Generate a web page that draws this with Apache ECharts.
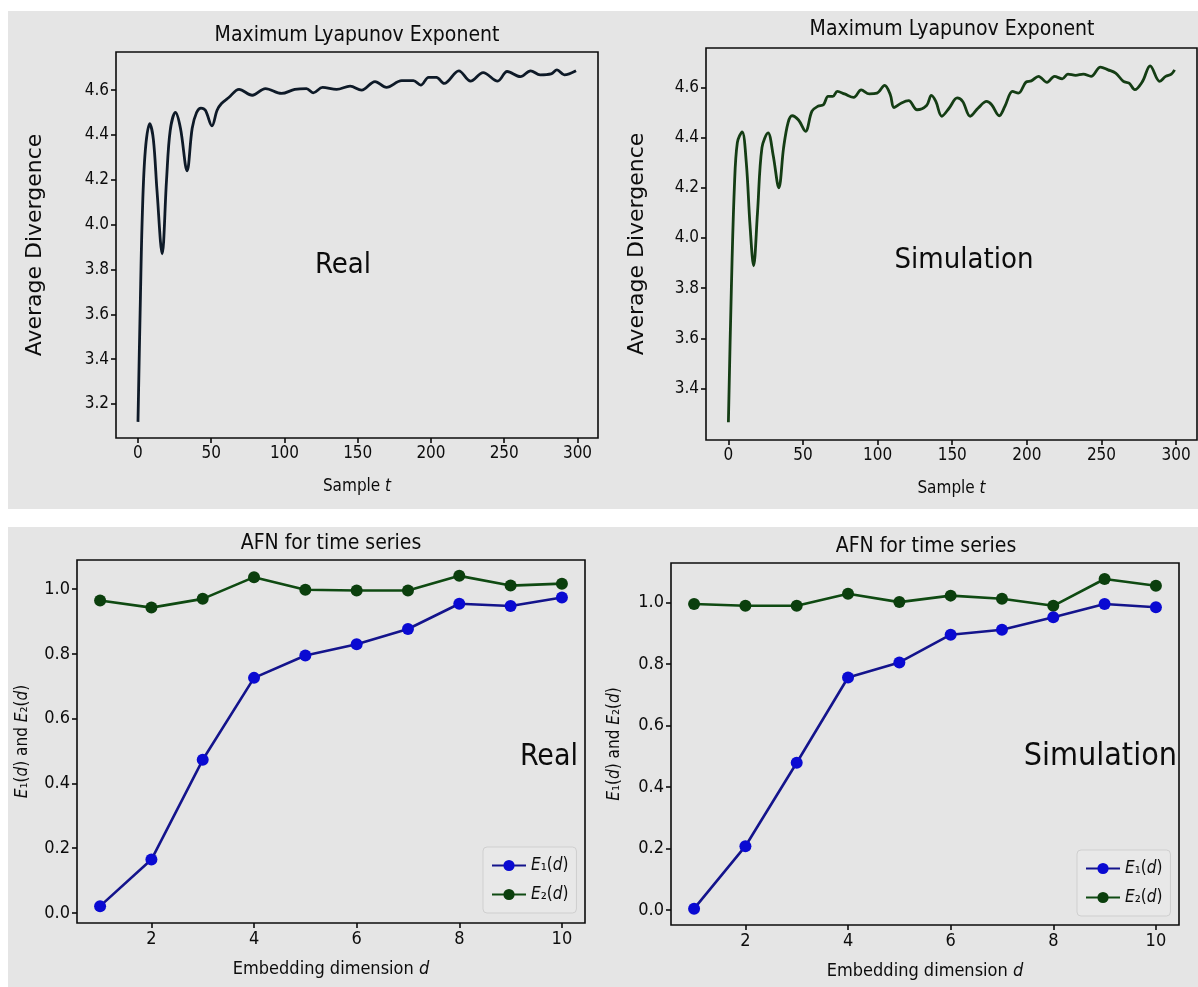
<!DOCTYPE html>
<html>
<head>
<meta charset="utf-8">
<script src="https://cdn.jsdelivr.net/npm/echarts@6/dist/echarts.min.js"></script>
<style>
  html, body { margin: 0; padding: 0; background: #ffffff; }
  #main { width: 1198px; height: 987px; }
</style>
</head>
<body>
<div id="main"></div>
<script>
// 最大李雅普诺夫指数 - real
const realT = [0, 1.5, 3, 5, 8, 10.5, 13, 16.5, 19.5, 22, 25.6, 29, 33.5, 37, 40, 43, 46, 50.5, 54, 57, 62, 69, 78, 87, 98, 107, 115, 119.6, 126, 135.6, 144.8, 152.6, 161.8, 169.6, 180, 188, 193, 198.4, 203.7, 209, 219, 227, 235.6, 245.5, 252, 261, 268, 274.5, 282, 286, 291, 299];
const realV = [3.12, 3.62, 4.05, 4.33, 4.45, 4.38, 4.15, 3.87, 4.2, 4.42, 4.5, 4.43, 4.24, 4.43, 4.5, 4.52, 4.51, 4.44, 4.51, 4.54, 4.567, 4.603, 4.577, 4.607, 4.585, 4.603, 4.607, 4.588, 4.612, 4.603, 4.618, 4.6, 4.638, 4.612, 4.642, 4.642, 4.622, 4.657, 4.657, 4.63, 4.686, 4.64, 4.678, 4.64, 4.683, 4.66, 4.686, 4.668, 4.672, 4.69, 4.668, 4.686];

// simulation
const simT = [0, 2, 4, 6, 9.2, 12, 14.5, 16.9, 19.5, 22.5, 26.6, 30, 33.8, 37, 40, 42.7, 47, 51.7, 56, 60, 63.7, 66.8, 70, 73, 77.8, 84, 89, 94.4, 99.6, 104.7, 108.5, 111, 116, 120.8, 126.4, 132.8, 136, 139, 143, 148, 153.3, 157, 162, 167.4, 173, 176.4, 181.5, 185.3, 190.4, 194.3, 199.4, 203, 207.8, 213.5, 218.5, 223.7, 227.5, 232.7, 237.8, 243, 249.3, 254.4, 259.5, 264.7, 268.5, 272.3, 277.5, 282.6, 289, 293, 296.8, 299];
const simV = [3.266, 3.8, 4.2, 4.38, 4.423, 4.3, 4.05, 3.889, 4.1, 4.36, 4.419, 4.33, 4.2, 4.36, 4.46, 4.487, 4.47, 4.425, 4.505, 4.525, 4.531, 4.564, 4.564, 4.584, 4.574, 4.56, 4.59, 4.574, 4.577, 4.608, 4.571, 4.52, 4.538, 4.547, 4.511, 4.528, 4.568, 4.544, 4.485, 4.518, 4.558, 4.544, 4.485, 4.518, 4.544, 4.531, 4.487, 4.525, 4.584, 4.577, 4.621, 4.626, 4.644, 4.62, 4.644, 4.634, 4.653, 4.648, 4.653, 4.644, 4.681, 4.67, 4.657, 4.624, 4.617, 4.591, 4.624, 4.686, 4.624, 4.644, 4.653, 4.67];

// AFN
const dims = [1, 2, 3, 4, 5, 6, 7, 8, 9, 10];
const realE1 = [0.021, 0.165, 0.473, 0.726, 0.795, 0.830, 0.877, 0.955, 0.948, 0.974];
const realE2 = [0.965, 0.943, 0.970, 1.037, 0.998, 0.996, 0.996, 1.041, 1.011, 1.017];
const simE1 = [0.005, 0.208, 0.479, 0.756, 0.805, 0.895, 0.911, 0.952, 0.995, 0.984];
const simE2 = [0.995, 0.989, 0.989, 1.028, 1.001, 1.022, 1.012, 0.989, 1.076, 1.054];

// 刻度
const tTicks = [0, 50, 100, 150, 200, 250, 300];
const realDivTicks = [3.2, 3.4, 3.6, 3.8, 4.0, 4.2, 4.4, 4.6];
const simDivTicks = [3.4, 3.6, 3.8, 4.0, 4.2, 4.4, 4.6];
const dimTicks = [2, 4, 6, 8, 10];
const afnTicks = [0.0, 0.2, 0.4, 0.6, 0.8, 1.0];

const NARROW = '"Liberation Sans Narrow", "DejaVu Sans Condensed", "Liberation Sans", sans-serif';
const BG = '#e5e5e5';
const INK = '#0c0c0c';

const pairs = (xs, ys) => xs.map((x, i) => [x, ys[i]]);

// 数值轴
function axis(gridIndex, min, max, ticks, digits, fontSize, name, nameGap, nameStyle) {
    return {
        type: 'value',
        gridIndex,
        min,
        max,
        name,
        nameLocation: 'middle',
        nameGap,
        nameTextStyle: nameStyle,
        axisLine: { show: false, onZero: false },
        splitLine: { show: false },
        axisTick: {
            show: true,
            length: 5,
            customValues: ticks,
            lineStyle: { color: INK, width: 1.6 }
        },
        axisLabel: {
            customValues: ticks,
            color: INK,
            fontFamily: NARROW,
            fontSize,
            margin: 7,
            formatter: v => v.toFixed(digits)
        }
    };
}

const italic = size => ({ i: { fontStyle: 'italic', fontFamily: NARROW, fontSize: size, color: INK } });
const sampleName = 'Sample {i|t}';
const afnName = 'Embedding dimension {i|d}';
const afnYName = '{i|E}₁({i|d}) and {i|E}₂({i|d})';

const xNameStyle = { fontFamily: NARROW, fontSize: 17, color: INK, rich: italic(17) };
const afnXNameStyle = { fontFamily: NARROW, fontSize: 18, color: INK, rich: italic(18) };
const divNameStyle = { fontFamily: '"DejaVu Sans", sans-serif', fontSize: 22, color: INK };
const afnYNameStyle = { fontFamily: NARROW, fontSize: 17, color: INK, rich: italic(17) };

const gridBase = { show: true, borderColor: INK, borderWidth: 1.6, backgroundColor: 'transparent' };

const E1_LINE = '#14148c';
const E1_DOT = '#0a0ad2';
const E2_LINE = '#0f4a12';
const E2_DOT = '#0b3f0d';

function afnSeries(name, xi, data, lineColor, dotColor) {
    return {
        type: 'line',
        name,
        xAxisIndex: xi,
        yAxisIndex: xi,
        data: pairs(dims, data),
        symbol: 'circle',
        symbolSize: 12,
        lineStyle: { color: lineColor, width: 2.6 },
        itemStyle: { color: dotColor },
        z: name === 'E₁(d)' ? 3 : 2
    };
}

function legendFmt(name) {
    return name === 'E₁(d)' ? '{i|E}₁({i|d})' : '{i|E}₂({i|d})';
}

function afnLegend(left, top) {
    return {
        orient: 'vertical',
        left,
        top,
        data: ['E₁(d)', 'E₂(d)'],
        itemWidth: 34,
        itemHeight: 14,
        itemGap: 12,
        padding: [10, 8, 10, 8],
        backgroundColor: '#e8e8e8',
        borderColor: '#cfcfcf',
        borderWidth: 1,
        borderRadius: 4,
        formatter: legendFmt,
        selectedMode: false,
        textStyle: {
            fontFamily: NARROW,
            fontSize: 17,
            color: INK,
            rich: italic(17)
        }
    };
}

function label(text, x, y, size, align) {
    return {
        type: 'text',
        x,
        y,
        z: 50,
        style: {
            text,
            fill: INK,
            font: size + 'px ' + NARROW,
            textAlign: align || 'center',
            textVerticalAlign: 'middle'
        }
    };
}

const chart = echarts.init(document.getElementById('main'), null, { renderer: 'canvas' });

const option = {
    backgroundColor: '#ffffff',
    animation: false,
    graphic: [
        { type: 'rect', shape: { x: 8, y: 11, width: 1190, height: 498 }, style: { fill: BG }, z: -10 },
        { type: 'rect', shape: { x: 8, y: 527, width: 1190, height: 460 }, style: { fill: BG }, z: -10 },
        label('Maximum Lyapunov Exponent', 357, 36, 21),
        label('Maximum Lyapunov Exponent', 952, 30, 21),
        label('AFN for time series', 331, 544, 21),
        label('AFN for time series', 926, 547, 21),
        label('Real', 343, 265, 29),
        label('Simulation', 964, 260, 29),
        label('Real', 578, 757, 30, 'right'),
        label('Simulation', 1177, 757, 32, 'right')
    ],
    grid: [
        Object.assign({ left: 116, top: 52, width: 482, height: 386 }, gridBase),
        Object.assign({ left: 706, top: 48, width: 491, height: 392 }, gridBase),
        Object.assign({ left: 77, top: 560, width: 508, height: 363 }, gridBase),
        Object.assign({ left: 671, top: 563, width: 508, height: 362 }, gridBase)
    ],
    xAxis: [
        axis(0, -15, 314, tTicks, 0, 17, sampleName, 40, xNameStyle),
        axis(1, -15, 314, tTicks, 0, 17, sampleName, 40, xNameStyle),
        axis(2, 0.55, 10.45, dimTicks, 0, 18, afnName, 37, afnXNameStyle),
        axis(3, 0.55, 10.45, dimTicks, 0, 18, afnName, 37, afnXNameStyle)
    ],
    yAxis: [
        axis(0, 3.048, 4.77, realDivTicks, 1, 17, 'Average Divergence', 70, divNameStyle),
        axis(1, 3.195, 4.757, simDivTicks, 1, 17, 'Average Divergence', 58, divNameStyle),
        axis(2, -0.031, 1.09, afnTicks, 1, 18, afnYName, 46, afnYNameStyle),
        axis(3, -0.048, 1.128, afnTicks, 1, 18, afnYName, 48, afnYNameStyle)
    ],
    legend: [afnLegend(483, 847), afnLegend(1077, 850)],
    series: [
        {
            type: 'line',
            name: 'real divergence',
            xAxisIndex: 0,
            yAxisIndex: 0,
            data: pairs(realT, realV),
            smooth: 0.35,
            showSymbol: false,
            lineStyle: { color: '#0e1a28', width: 2.8 }
        },
        {
            type: 'line',
            name: 'simulation divergence',
            xAxisIndex: 1,
            yAxisIndex: 1,
            data: pairs(simT, simV),
            smooth: 0.35,
            showSymbol: false,
            lineStyle: { color: '#143d14', width: 2.8 }
        },
        afnSeries('E₁(d)', 2, realE1, E1_LINE, E1_DOT),
        afnSeries('E₂(d)', 2, realE2, E2_LINE, E2_DOT),
        afnSeries('E₁(d)', 3, simE1, E1_LINE, E1_DOT),
        afnSeries('E₂(d)', 3, simE2, E2_LINE, E2_DOT)
    ]
};

chart.setOption(option);
</script>
</body>
</html>
